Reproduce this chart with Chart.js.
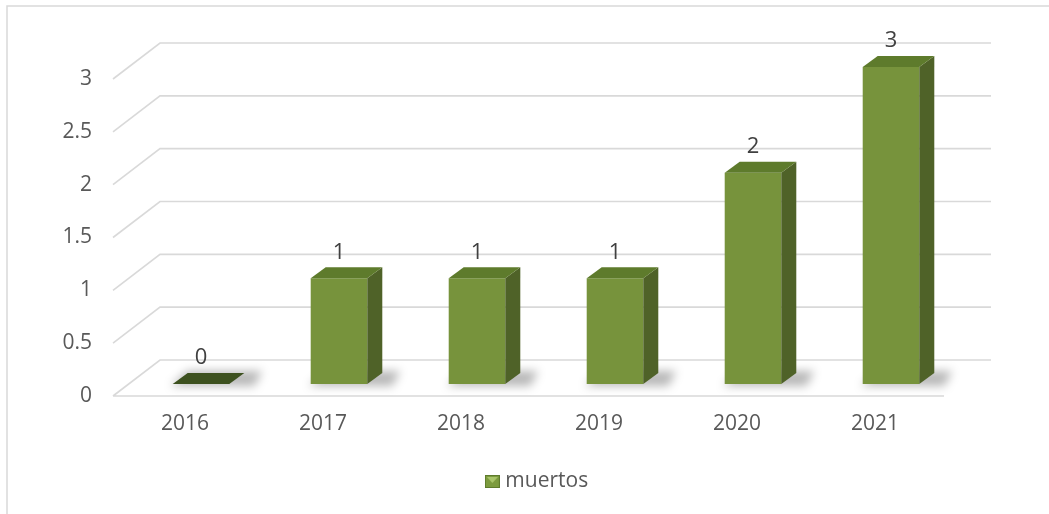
<!DOCTYPE html>
<html>
<head>
<meta charset="utf-8">
<script src="https://cdn.jsdelivr.net/npm/chart.js@4"></script>
<style>
	html, body { margin: 0; padding: 0; background: #fff; }
	#chart { display: block; }
</style>
</head>
<body>
<canvas id="chart" width="1049" height="514"></canvas>
<script>
var years = [ "2016", "2017", "2018", "2019", "2020", "2021" ];
var muertos = [ 0, 1, 1, 1, 2, 3 ];
var yTicks = [ 0, 0.5, 1, 1.5, 2, 2.5, 3 ];

// profundidad del efecto 3d
var wallDX = 47, wallDY = 36;		// pared del fondo
var barDX = 16, barDY = 12;		// plano frontal de las barras
var depthDX = 15, depthDY = 11;	// grosor de cada barra

var frontColor = "#77933C", sideColor = "#4F6228", topColor = "#5E7B2C", flatColor = "#3D511F";
var gridColor = "#D9D9D9", textColor = "#595959";

Chart.defaults.font.family = "'Open Sans', sans-serif";
Chart.defaults.font.size = 21;
Chart.defaults.color = textColor;

// icono de la leyenda
var icono = document.createElement("canvas");
icono.width = 15;
icono.height = 13;
var ic = icono.getContext("2d");
ic.fillStyle = "#5E7B2C";
ic.fillRect(0, 0, 15, 13);
ic.fillStyle = "#7C9B3E";
ic.fillRect(1, 1, 13, 11);
ic.fillStyle = "#A9C56A";
ic.beginPath();
ic.moveTo(2, 2);
ic.lineTo(13, 2);
ic.lineTo(7.5, 8);
ic.closePath();
ic.fill();

var grafico3d = {
	id : "grafico3d",
	beforeDraw : function(chart) {
		var ctx = chart.ctx;
		ctx.save();
		ctx.fillStyle = "#fff";
		ctx.fillRect(0, 0, chart.width, chart.height);
		ctx.strokeStyle = gridColor;
		ctx.lineWidth = 1.5;
		ctx.beginPath();
		ctx.moveTo(7, chart.height);
		ctx.lineTo(7, 6);
		ctx.lineTo(chart.width, 6);
		ctx.stroke();
		ctx.restore();
	},
	afterLayout : function(chart) {
		// la leyenda queda un poco a la derecha del centro
		chart.legend.left += 9;
		chart.legend.right += 9;
	},
	beforeDatasetsDraw : function(chart) {
		var ctx = chart.ctx, a = chart.chartArea, y = chart.scales.y;

		// lineas de la pared y del suelo
		ctx.save();
		ctx.strokeStyle = gridColor;
		ctx.lineWidth = 1.6;
		ctx.beginPath();
		yTicks.forEach(function(v) {
			var py = y.getPixelForValue(v);
			ctx.moveTo(a.left - 3, py);
			ctx.lineTo(a.left - 3 + wallDX, py - wallDY);
			ctx.lineTo(a.right + wallDX, py - wallDY);
			if (v === 0) {
				ctx.moveTo(a.left - 3, py);
				ctx.lineTo(a.right, py);
			}
		});
		ctx.stroke();
		ctx.restore();

		// las barras se dibujan desplazadas hacia el fondo
		ctx.save();
		ctx.translate(barDX, -barDY);

		// sombra en el suelo
		var meta = chart.getDatasetMeta(0);
		ctx.save();
		ctx.filter = "blur(5px)";
		ctx.fillStyle = "rgba(0,0,0,0.28)";
		meta.data.forEach(function(bar) {
			var l = bar.x - bar.width / 2, r = bar.x + bar.width / 2, b = bar.base;
			ctx.beginPath();
			ctx.moveTo(l - 2, b + 2);
			ctx.lineTo(r + depthDX + 10, b + 2);
			ctx.lineTo(r + depthDX + 18, b - depthDY - 2);
			ctx.lineTo(l + depthDX, b - depthDY - 2);
			ctx.closePath();
			ctx.fill();
		});
		ctx.restore();
	},
	afterDatasetsDraw : function(chart) {
		var ctx = chart.ctx;
		var meta = chart.getDatasetMeta(0);
		meta.data.forEach(function(bar) {
			var l = bar.x - bar.width / 2, r = bar.x + bar.width / 2, t = bar.y, b = bar.base;
			if (b - t > 0) {
				// cara lateral
				ctx.fillStyle = sideColor;
				ctx.beginPath();
				ctx.moveTo(r, t);
				ctx.lineTo(r + depthDX, t - depthDY);
				ctx.lineTo(r + depthDX, b - depthDY);
				ctx.lineTo(r, b);
				ctx.closePath();
				ctx.fill();
			}
			// cara superior
			ctx.fillStyle = (b - t > 0) ? topColor : flatColor;
			ctx.beginPath();
			ctx.moveTo(l, t);
			ctx.lineTo(l + depthDX, t - depthDY);
			ctx.lineTo(r + depthDX, t - depthDY);
			ctx.lineTo(r, t);
			ctx.closePath();
			ctx.fill();
		});
		ctx.restore();	// fin del desplazamiento

		// etiquetas de valor
		ctx.save();
		ctx.fillStyle = "#404040";
		ctx.font = "22px 'Open Sans', sans-serif";
		ctx.textAlign = "center";
		ctx.textBaseline = "middle";
		meta.data.forEach(function(bar, i) {
			ctx.fillText(muertos[i], bar.x + barDX, bar.y - barDY - 26);
		});
		ctx.restore();
	}
};

new Chart(document.getElementById("chart"), {
	"type" : "bar",
	"data" : {
		"labels" : years,
		"datasets" : [ {
			"label" : "muertos",
			"data" : muertos,
			"backgroundColor" : frontColor,
			"borderWidth" : 0,
			"categoryPercentage" : 1,
			"barPercentage" : 0.41
		} ]
	},
	"options" : {
		"responsive" : false,
		"devicePixelRatio" : 1,
		"animation" : false,
		"layout" : {
			"padding" : { "top" : 79, "right" : 105, "bottom" : 12, "left" : 0 }
		},
		"scales" : {
			"x" : {
				"grid" : { "display" : false, "drawTicks" : false },
				"border" : { "display" : false },
				"ticks" : { "padding" : 15 },
				"afterFit" : function(s) { s.height = 65; }
			},
			"y" : {
				"min" : 0,
				"max" : 3,
				"grid" : { "display" : false, "drawTicks" : false },
				"border" : { "display" : false },
				"ticks" : {
					"padding" : 24,
					"callback" : function(v) { return String(v); }
				},
				"afterBuildTicks" : function(s) {
					s.ticks = yTicks.map(function(v) { return { value : v }; });
				},
				"afterFit" : function(s) { s.width = 116; }
			}
		},
		"plugins" : {
			"tooltip" : { "enabled" : false },
			"legend" : {
				"position" : "bottom",
				"fullSize" : false,
				"labels" : {
					"usePointStyle" : true,
					"pointStyleWidth" : 5,
					"boxHeight" : 13,
					"color" : textColor,
					"generateLabels" : function(chart) {
						var items = Chart.defaults.plugins.legend.labels.generateLabels(chart);
						items.forEach(function(it) { it.pointStyle = icono; });
						return items;
					}
				}
			}
		}
	},
	"plugins" : [ grafico3d ]
});
</script>
</body>
</html>
